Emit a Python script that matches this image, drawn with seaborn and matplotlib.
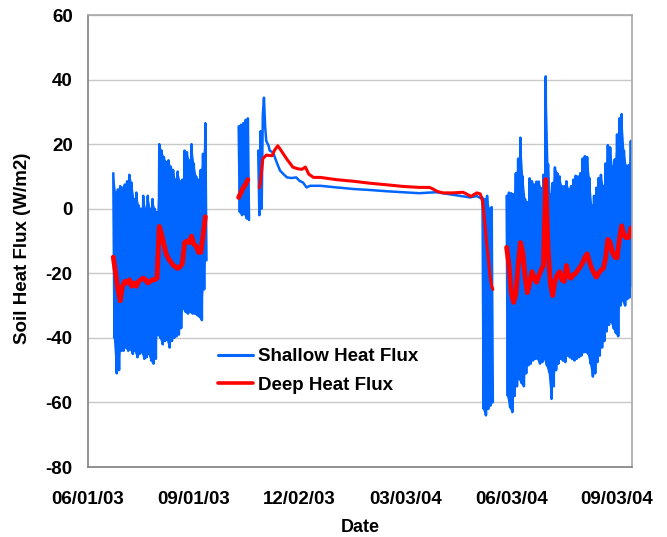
import pandas as pd
import matplotlib
matplotlib.use("Agg")
import matplotlib.pyplot as plt
import matplotlib.dates as mdates
from matplotlib.lines import Line2D
import seaborn as sns

# ---------------------------------------------------------------------------
# Soil heat flux record (W/m2).  Noisy stretches are stored as daily highs and
# lows taken every second day; quiet stretches as dated readings.
# ---------------------------------------------------------------------------

# Summer 2003
summer03_start = "2003-06-23"
summer03_shallow_hi = [11, 5, 6, 7, 6.5, 7.5, 8.5, 10.5, 8, 3, 5, 1, 0, 4, 0, 4, 0, 3, 0, -1,
                       20, 18, 16, 14.5, 15, 13, 12, 9, 11.5, 8.5, 9, 18, 17.5, 15, 20, 14,
                       10, 9, 12, 17, 26.5]
summer03_shallow_lo = [-40, -51, -50, -44, -44, -43, -44, -43.5, -45, -44, -46, -45, -44.5,
                       -46.5, -46, -45, -47, -48, -46.5, -39,
                       -40, -42, -41, -40.5, -43, -41, -40, -39.5, -39, -37, -31, -32, -32.5,
                       -32, -32.5, -32.5, -33, -33.5, -34.5, -25, -16]
summer03_deep = [-15, -20, -25, -28.5, -24, -22.5, -23, -22, -24, -23, -24, -22.5, -22, -21.5,
                 -22, -23, -22.5, -22, -22, -21.5,
                 -5.5, -8, -11, -14, -15.5, -16.5, -17.5, -18, -18.5, -18, -17, -10.5, -10,
                 -10.5, -8.5, -11, -11.5, -13.5, -13.5, -8.5, -2.5]

# Short October 2003 run
oct03_start = "2003-10-10"
oct03_shallow_hi = [25.5, 26, 26.5, 27.5, 28]
oct03_shallow_lo = [-1, -2, -1.5, -3, -3.5]
oct03_deep = [3.5, 5, 6.5, 7.5, 9]

# Winter 2003-04: onset, quiet period, spring drop
winter_onset_start = "2003-10-27"
winter_onset_hi = [18, 24]
winter_onset_lo = [-2, 0]

winter_shallow_dates = ["2003-10-31", "2003-11-01", "2003-11-02", "2003-11-03", "2003-11-05",
                        "2003-11-06", "2003-11-09", "2003-11-12", "2003-11-15", "2003-11-18",
                        "2003-11-21", "2003-11-25", "2003-11-29", "2003-12-02", "2003-12-05",
                        "2003-12-08", "2003-12-11", "2003-12-20", "2004-01-03", "2004-01-18",
                        "2004-02-01", "2004-02-16", "2004-03-01", "2004-03-15", "2004-03-24",
                        "2004-03-30", "2004-04-08", "2004-04-19", "2004-04-28", "2004-05-04",
                        "2004-05-08"]
winter_shallow = [29, 34.4, 25.5, 21, 19.5, 18, 17.4, 14.4, 11.8, 10.7, 9.7, 9.5, 9.7, 8.6,
                  8.1, 6.6, 7.1, 7.1, 6.6, 6.1, 5.8, 5.4, 5.1, 4.8, 5.0, 5.1, 4.6, 4.0, 3.5,
                  3.9, 3.2]

spring_drop_start = "2004-05-09"
spring_drop_hi = [3.5, 3, 4, 0, 0.5]
spring_drop_lo = [-62, -64, -62, -61, -60]

winter_deep_dates = ["2003-10-28", "2003-10-29", "2003-10-30", "2003-10-31", "2003-11-03",
                     "2003-11-08", "2003-11-10", "2003-11-13", "2003-11-15", "2003-11-18",
                     "2003-11-21", "2003-11-24", "2003-11-26", "2003-11-30", "2003-12-04",
                     "2003-12-07", "2003-12-10", "2003-12-14", "2003-12-20", "2004-01-03",
                     "2004-01-18", "2004-02-01", "2004-02-16", "2004-03-01", "2004-03-15",
                     "2004-03-24", "2004-03-27", "2004-03-31", "2004-04-05", "2004-04-13",
                     "2004-04-22", "2004-04-25", "2004-04-29", "2004-05-04", "2004-05-07",
                     "2004-05-09", "2004-05-10", "2004-05-11", "2004-05-12", "2004-05-13",
                     "2004-05-14", "2004-05-15", "2004-05-16", "2004-05-17", "2004-05-18"]
winter_deep = [6.5, 8.5, 12, 15.5, 16.6, 16.4, 18, 19.5, 18.5, 16.9, 15.3, 13.9, 12.9, 12.4,
               12.2, 12.9, 10.7, 9.7, 9.7, 9.0, 8.5, 7.9, 7.4, 6.9, 6.6, 6.6, 6.1, 5.3, 4.9,
               4.9, 5.1, 4.6, 3.8, 4.9, 4.6, 2.5, -1, -4.5, -8.5, -12, -15, -19, -22, -24, -25]

# Summer 2004
summer04_start = "2004-05-30"
summer04_shallow_hi = [4, 5, 4.8, 4.5, 11, 15.5, 22, 10, 3, 2, 9.4, 8.5, 7.5, 8.4, 8.4, 6.4,
                       10.5, 41, 13.8, 4.5, 8, 12.8, 11, 10, 7, 7, 8.5, 6, 7, 9, 10.2, 10, 11,
                       15.5, 16.3, 16, 9.5, 1, 4, 6.5, 9.5, 10.5, 7, 14, 19.7, 19, 13, 15.3,
                       23, 28, 29.3, 18, 13.3, 13.5, 21]
summer04_shallow_lo = [-58, -61.5, -63, -58, -55, -52.7, -54, -55, -51, -48.5, -48, -47,
                       -46.5, -46.5, -48, -47.5, -46.5, -48.5, -50.6, -58.9, -55, -50, -48,
                       -46.5, -47, -47.5, -45.5, -46, -46.5, -47, -46.5, -46, -45.5, -44.5,
                       -44.4, -45, -48, -52, -51, -47.5, -45.5, -43, -41, -38, -36, -35, -37,
                       -38.5, -39.5, -30, -28.5, -30, -28, -27.5, -24]
summer04_deep = [-12, -17.5, -26, -29, -26.5, -17.5, -10.5, -13.5, -21, -26, -23, -19.5,
                 -21.5, -22.8, -20.7, -19, -17.6, 9, -12.5, -23, -26.9, -22.5, -20.5, -19.5,
                 -22, -22.5, -17.6, -21, -21.5, -20.5, -20, -19, -18, -16.8, -15, -14, -16.5,
                 -18.5, -20, -21.2, -20, -19, -18.5, -15.5, -9.5, -10.5, -13.5, -15, -15.2,
                 -9.5, -5.3, -8.3, -9, -8.9, -6]

date_ticks = ["2003-06-01", "2003-09-01", "2003-12-02", "2004-03-03", "2004-06-03",
              "2004-09-03"]
date_limits = ["2003-06-01", "2004-09-16"]
flux_ticks = [-80, -60, -40, -20, 0, 20, 40, 60]

SHALLOW = "#0066ff"
DEEP = "#ff0000"


def zigzag(start, hi, lo, step=2):
    """Alternate each reading's daily high and the following low."""
    t0 = pd.Timestamp(start)
    rows = []
    for i, (h, l) in enumerate(zip(hi, lo)):
        rows.append((t0 + pd.Timedelta(days=step * i), h))
        rows.append((t0 + pd.Timedelta(days=step * i + 1), l))
    return rows


def regular(start, values, step=2):
    t0 = pd.Timestamp(start)
    return [(t0 + pd.Timedelta(days=step * i), v) for i, v in enumerate(values)]


def dated(dates, values):
    return list(zip(pd.to_datetime(dates), values))


def frame(pieces):
    parts = []
    for seg, rows in enumerate(pieces):
        d = pd.DataFrame(rows, columns=["date", "flux"])
        d["segment"] = seg
        parts.append(d)
    return pd.concat(parts, ignore_index=True)


shallow_df = frame([
    zigzag(summer03_start, summer03_shallow_hi, summer03_shallow_lo),
    zigzag(oct03_start, oct03_shallow_hi, oct03_shallow_lo),
    zigzag(winter_onset_start, winter_onset_hi, winter_onset_lo)
    + dated(winter_shallow_dates, winter_shallow)
    + zigzag(spring_drop_start, spring_drop_hi, spring_drop_lo),
    zigzag(summer04_start, summer04_shallow_hi, summer04_shallow_lo),
])

# daily range of the shallow plate, shaded under the swings
shallow_bands = [
    (summer03_start, summer03_shallow_hi, summer03_shallow_lo),
    (oct03_start, oct03_shallow_hi, oct03_shallow_lo),
    (winter_onset_start, winter_onset_hi, winter_onset_lo),
    (spring_drop_start, spring_drop_hi, spring_drop_lo),
    (summer04_start, summer04_shallow_hi, summer04_shallow_lo),
]

deep_noisy_df = frame([
    regular(summer03_start, summer03_deep),
    regular(oct03_start, oct03_deep),
    regular(summer04_start, summer04_deep),
])
deep_quiet_df = frame([dated(winter_deep_dates, winter_deep)])

sns.set_theme(style="white")
plt.rcParams["font.family"] = ["Liberation Sans", "DejaVu Sans"]
plt.rcParams["font.weight"] = "bold"
plt.rcParams["axes.unicode_minus"] = False
plt.rcParams["text.color"] = "black"
plt.rcParams["axes.labelcolor"] = "black"
plt.rcParams["xtick.color"] = "black"
plt.rcParams["ytick.color"] = "black"
# keep every daily swing of the dense records
plt.rcParams["path.simplify"] = False

fig = plt.figure(figsize=(6.67, 5.37), dpi=100)
ax = fig.add_axes([88 / 667, 1 - 467 / 537, 544 / 667, 452 / 537])

for start, hi, lo in shallow_bands:
    t = [pd.Timestamp(start) + pd.Timedelta(days=2 * i) for i in range(len(hi))]
    ax.fill_between(t, lo, hi, color=SHALLOW, lw=0)

sns.lineplot(data=shallow_df, x="date", y="flux", units="segment", estimator=None,
             sort=False, color=SHALLOW, lw=1.8, ax=ax, legend=False)
sns.lineplot(data=deep_noisy_df, x="date", y="flux", units="segment", estimator=None,
             sort=False, color=DEEP, lw=3.5, ax=ax, legend=False)
sns.lineplot(data=deep_quiet_df, x="date", y="flux", units="segment", estimator=None,
             sort=False, color=DEEP, lw=2.2, ax=ax, legend=False)

ax.set_xlim(pd.Timestamp(date_limits[0]), pd.Timestamp(date_limits[1]))
ax.set_xticks(pd.to_datetime(date_ticks))
ax.xaxis.set_major_formatter(mdates.DateFormatter("%m/%d/%y"))
ax.set_ylim(flux_ticks[0], flux_ticks[-1])
ax.set_yticks(flux_ticks)

ax.yaxis.grid(True, color="#c8c8c8", lw=1.0)
ax.set_axisbelow(True)
for side in ("left", "bottom"):
    ax.spines[side].set_color("#7f7f7f")
    ax.spines[side].set_linewidth(1.2)
for side in ("top", "right"):
    ax.spines[side].set_color("#a8a8a8")
    ax.spines[side].set_linewidth(1.2)

ax.tick_params(axis="x", direction="out", length=4.5, width=1, color="#7f7f7f",
               labelcolor="black", labelsize=13.5, pad=12.5)
ax.tick_params(axis="y", length=0, labelcolor="black", labelsize=13.5, pad=11)
for lab in ax.get_xticklabels() + ax.get_yticklabels():
    lab.set_fontweight("bold")

ax.set_xlabel("Date", fontsize=13, fontweight="bold", color="black")
ax.set_ylabel("Soil Heat Flux (W/m2)", fontsize=13.5, fontweight="bold", color="black")
ax.xaxis.set_label_coords(0.5, (467 - 536.5) / 452)
ax.xaxis.label.set_va("bottom")
ax.yaxis.set_label_coords(-0.1195, 0.483)
ax.yaxis.label.set_va("center")

handles = [Line2D([], [], color=SHALLOW, lw=2.2), Line2D([], [], color=DEEP, lw=2.6)]
leg = ax.legend(handles, ["Shallow Heat Flux", "Deep Heat Flux"], loc="upper left",
                bbox_to_anchor=(0.239, 0.263), frameon=False, borderpad=0, borderaxespad=0,
                handlelength=1.85, handletextpad=0.3, labelspacing=0.62,
                prop={"size": 13.5, "weight": "bold"})
for txt in leg.get_texts():
    txt.set_color("black")

fig.savefig("out.png", dpi=100)
